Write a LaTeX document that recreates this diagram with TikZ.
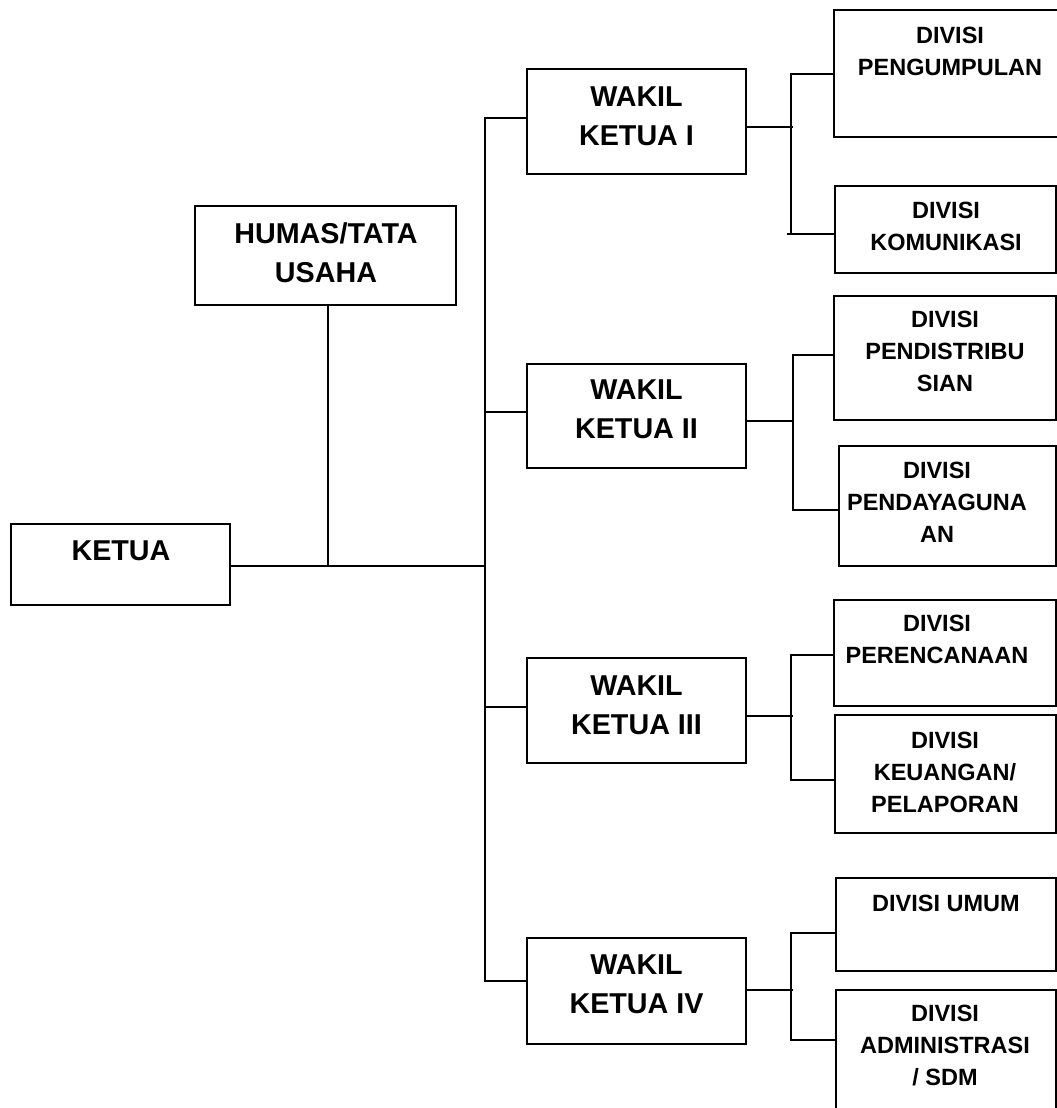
\documentclass[tikz,border=0pt]{standalone}
\usepackage{fontspec}
\setmainfont{Liberation Sans}
\usetikzlibrary{fit}
\begin{document}
\begin{tikzpicture}[x=1pt,y=-1pt,
  box/.style={draw=black,line width=2pt,inner sep=0pt,rectangle},
  conn/.style={draw=black,line width=1.7pt},
  bigtxt/.style={font=\bfseries\fontsize{28.7}{39}\selectfont,align=center,inner sep=0pt,text depth=0pt},
  divtxt/.style={font=\bfseries\fontsize{23.5}{32}\selectfont,align=center,inner sep=0pt,text depth=0pt}]
\useasboundingbox (0,0) rectangle (1057,1108);
% boxes
\node[box,fit={(11,524) (230,605)}] (ketua) {};
\node[box,fit={(195,206) (456,305)}] (humas) {};
\node[box,fit={(527,69) (746,174)}] (w1) {};
\node[box,fit={(527,364) (746,468)}] (w2) {};
\node[box,fit={(527,658) (746,763)}] (w3) {};
\node[box,fit={(527,938) (746,1044)}] (w4) {};
\node[box,fit={(834,10) (1065,137)}] (d1) {};
\node[box,fit={(835,186) (1056,273)}] (d2) {};
\node[box,fit={(834,296) (1056,420)}] (d3) {};
\node[box,fit={(839,446) (1056,566)}] (d4) {};
\node[box,fit={(834,600) (1056,706)}] (d5) {};
\node[box,fit={(835,715) (1056,833)}] (d6) {};
\node[box,fit={(836,878) (1056,971)}] (d7) {};
\node[box,fit={(836,990) (1056,1140)}] (d8) {};
% texts
\node[bigtxt] (tketua) at (121,551) {KETUA};
\node[bigtxt] (thumas) at (326,252.5) {HUMAS/TATA\\USAHA};
\node[bigtxt] (tw1) at (636.5,116.5) {WAKIL\\KETUA I};
\node[bigtxt] (tw2) at (636.5,409.5) {WAKIL\\KETUA II};
\node[bigtxt] (tw3) at (636.5,705) {WAKIL\\KETUA III};
\node[bigtxt] (tw4) at (636.5,984.5) {WAKIL\\KETUA IV};
\node[divtxt] (td1) at (950,51) {DIVISI\\PENGUMPULAN};
\node[divtxt] (td2) at (946,226) {DIVISI\\KOMUNIKASI};
\node[divtxt] (td3) at (945,351) {DIVISI\\PENDISTRIBU\\SIAN};
\node[divtxt] (td4) at (937,502) {DIVISI\\PENDAYAGUNA\\AN};
\node[divtxt] (td5) at (937,639) {DIVISI\\PERENCANAAN};
\node[divtxt] (td6) at (945,772.5) {DIVISI\\KEUANGAN/\\PELAPORAN};
\node[divtxt] (td7) at (946,903) {DIVISI UMUM};
\node[divtxt] (td8) at (945,1045) {DIVISI\\ADMINISTRASI\\/ SDM};
% junction coordinates
\coordinate (kj) at (328,566);
\coordinate (bk) at (485,566);
\coordinate (b1) at (485,118);
\coordinate (b2) at (485,412);
\coordinate (b3) at (485,707);
\coordinate (b4) at (485,981);
\coordinate (g1r) at (793,127);
\coordinate (g1t) at (791,74);
\coordinate (g1b) at (791,234);
\coordinate (g1s) at (787,234);
\coordinate (g2r) at (793,421);
\coordinate (g2t) at (793,355);
\coordinate (g2b) at (793,510);
\coordinate (g3r) at (793,716);
\coordinate (g3t) at (791,655);
\coordinate (g3b) at (791,780);
\coordinate (g4r) at (793,990);
\coordinate (g4t) at (791,933);
\coordinate (g4b) at (791,1040);
% connectors
\draw[conn] (humas.south -| kj) -- (kj);
\draw[conn] (ketua.east |- bk) -- (bk);
\draw[conn] (w1.west |- b1) -- (b1) -- (b4) -- (w4.west |- b4);
\draw[conn] (b2) -- (w2.west |- b2);
\draw[conn] (b3) -- (w3.west |- b3);
\draw[conn] (w1.east |- g1r) -- (g1r);
\draw[conn] (d1.west |- g1t) -- (g1t) -- (g1b);
\draw[conn] (g1s) -- (d2.west |- g1s);
\draw[conn] (w2.east |- g2r) -- (g2r);
\draw[conn] (d3.west |- g2t) -- (g2t) -- (g2b) -- (d4.west |- g2b);
\draw[conn] (w3.east |- g3r) -- (g3r);
\draw[conn] (d5.west |- g3t) -- (g3t) -- (g3b) -- (d6.west |- g3b);
\draw[conn] (w4.east |- g4r) -- (g4r);
\draw[conn] (d7.west |- g4t) -- (g4t) -- (g4b) -- (d8.west |- g4b);
\end{tikzpicture}
\end{document}
